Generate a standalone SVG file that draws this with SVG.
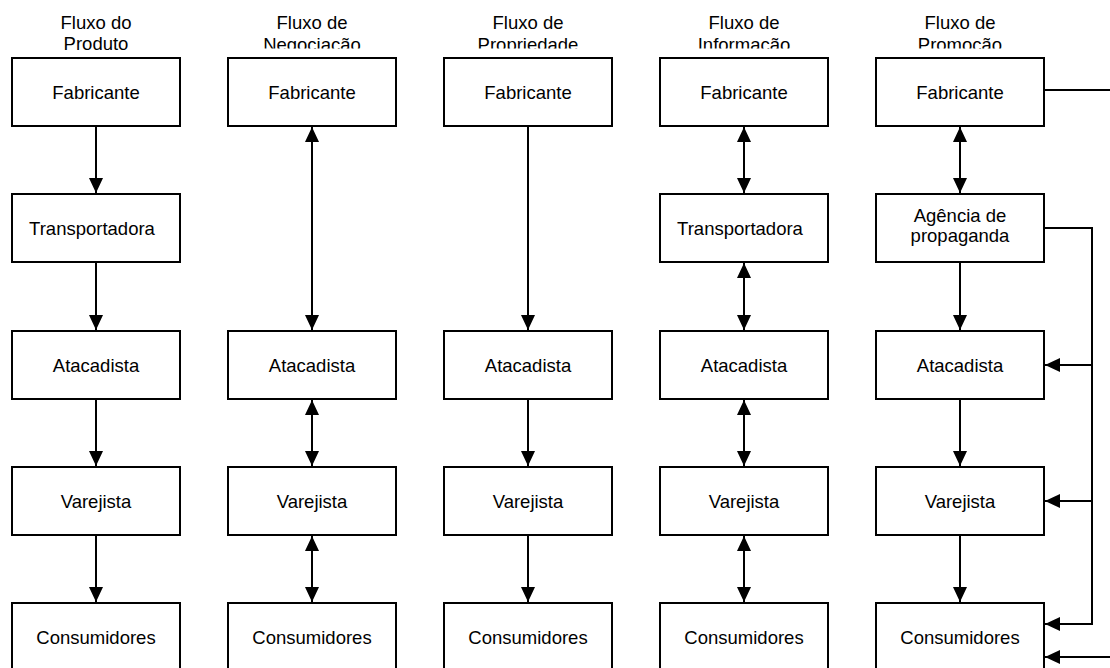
<svg xmlns="http://www.w3.org/2000/svg" width="1110" height="668" viewBox="0 0 1110 668">
  <style>
    .box { fill: #ffffff; stroke: #000000; stroke-width: 2; }
    .lbl { font-family: "Liberation Sans", Arial, sans-serif; font-size: 18.5px; fill: #000000; text-anchor: middle; }
    .con { fill: none; stroke: #000000; stroke-width: 2; }
    .one { marker-end: url(#ah); }
    .two { marker-start: url(#ah); marker-end: url(#ah); }
  </style>
  <defs>
    <marker id="ah" markerUnits="userSpaceOnUse" markerWidth="15" markerHeight="14" refX="15" refY="7" orient="auto-start-reverse" viewBox="0 0 15 14">
      <path d="M0,0 L15,7 L0,14 z" fill="#000000"/>
    </marker>
    <clipPath id="tclip">
      <rect x="0" y="0" width="1110" height="48.5"/>
    </clipPath>
  </defs>
  <rect x="0" y="0" width="1110" height="668" fill="#ffffff"/>

  <g id="titles" class="lbl">
    <text x="96" y="29">Fluxo do</text>
    <text x="96" y="50">Produto</text>
    <g clip-path="url(#tclip)">
      <text x="312" y="29">Fluxo de</text>
      <text x="312" y="50.5">Negociação</text>
      <text x="528" y="29">Fluxo de</text>
      <text x="528" y="50.5">Propriedade</text>
      <text x="744" y="29">Fluxo de</text>
      <text x="744" y="50.5">Informação</text>
      <text x="960" y="29">Fluxo de</text>
      <text x="960" y="50.5">Promoção</text>
    </g>
  </g>

  <!-- Column 1: Produto -->
  <g id="c1-fabricante"><rect class="box" x="12" y="58" width="168" height="68"/><text class="lbl" x="96" y="98.5">Fabricante</text></g>
  <g id="c1-transportadora"><rect class="box" x="12" y="194" width="168" height="68"/><text class="lbl" x="92" y="234.5">Transportadora</text></g>
  <g id="c1-atacadista"><rect class="box" x="12" y="331" width="168" height="68"/><text class="lbl" x="96" y="371.5">Atacadista</text></g>
  <g id="c1-varejista"><rect class="box" x="12" y="467" width="168" height="68"/><text class="lbl" x="96" y="507.5">Varejista</text></g>
  <g id="c1-consumidores"><rect class="box" x="12" y="603" width="168" height="68"/><text class="lbl" x="96" y="643.5">Consumidores</text></g>

  <!-- Column 2: Negociação -->
  <g id="c2-fabricante"><rect class="box" x="228" y="58" width="168" height="68"/><text class="lbl" x="312" y="98.5">Fabricante</text></g>
  <g id="c2-atacadista"><rect class="box" x="228" y="331" width="168" height="68"/><text class="lbl" x="312" y="371.5">Atacadista</text></g>
  <g id="c2-varejista"><rect class="box" x="228" y="467" width="168" height="68"/><text class="lbl" x="312" y="507.5">Varejista</text></g>
  <g id="c2-consumidores"><rect class="box" x="228" y="603" width="168" height="68"/><text class="lbl" x="312" y="643.5">Consumidores</text></g>

  <!-- Column 3: Propriedade -->
  <g id="c3-fabricante"><rect class="box" x="444" y="58" width="168" height="68"/><text class="lbl" x="528" y="98.5">Fabricante</text></g>
  <g id="c3-atacadista"><rect class="box" x="444" y="331" width="168" height="68"/><text class="lbl" x="528" y="371.5">Atacadista</text></g>
  <g id="c3-varejista"><rect class="box" x="444" y="467" width="168" height="68"/><text class="lbl" x="528" y="507.5">Varejista</text></g>
  <g id="c3-consumidores"><rect class="box" x="444" y="603" width="168" height="68"/><text class="lbl" x="528" y="643.5">Consumidores</text></g>

  <!-- Column 4: Informação -->
  <g id="c4-fabricante"><rect class="box" x="660" y="58" width="168" height="68"/><text class="lbl" x="744" y="98.5">Fabricante</text></g>
  <g id="c4-transportadora"><rect class="box" x="660" y="194" width="168" height="68"/><text class="lbl" x="740" y="234.5">Transportadora</text></g>
  <g id="c4-atacadista"><rect class="box" x="660" y="331" width="168" height="68"/><text class="lbl" x="744" y="371.5">Atacadista</text></g>
  <g id="c4-varejista"><rect class="box" x="660" y="467" width="168" height="68"/><text class="lbl" x="744" y="507.5">Varejista</text></g>
  <g id="c4-consumidores"><rect class="box" x="660" y="603" width="168" height="68"/><text class="lbl" x="744" y="643.5">Consumidores</text></g>

  <!-- Column 5: Promoção -->
  <g id="c5-fabricante"><rect class="box" x="876" y="58" width="168" height="68"/><text class="lbl" x="960" y="98.5">Fabricante</text></g>
  <g id="c5-agencia"><rect class="box" x="876" y="194" width="168" height="68"/><text class="lbl" x="960" y="222">Agência de</text><text class="lbl" x="960" y="242">propaganda</text></g>
  <g id="c5-atacadista"><rect class="box" x="876" y="331" width="168" height="68"/><text class="lbl" x="960" y="371.5">Atacadista</text></g>
  <g id="c5-varejista"><rect class="box" x="876" y="467" width="168" height="68"/><text class="lbl" x="960" y="507.5">Varejista</text></g>
  <g id="c5-consumidores"><rect class="box" x="876" y="603" width="168" height="68"/><text class="lbl" x="960" y="643.5">Consumidores</text></g>

  <g id="connectors" class="con">
    <line class="one" x1="96" y1="127" x2="96" y2="193"/>
    <line class="one" x1="96" y1="263" x2="96" y2="330"/>
    <line class="one" x1="96" y1="400" x2="96" y2="466"/>
    <line class="one" x1="96" y1="536" x2="96" y2="602"/>
    <line class="two" x1="312" y1="127" x2="312" y2="330"/>
    <line class="two" x1="312" y1="400" x2="312" y2="466"/>
    <line class="two" x1="312" y1="536" x2="312" y2="602"/>
    <line class="one" x1="528" y1="127" x2="528" y2="330"/>
    <line class="one" x1="528" y1="400" x2="528" y2="466"/>
    <line class="one" x1="528" y1="536" x2="528" y2="602"/>
    <line class="two" x1="744" y1="127" x2="744" y2="193"/>
    <line class="two" x1="744" y1="263" x2="744" y2="330"/>
    <line class="two" x1="744" y1="400" x2="744" y2="466"/>
    <line class="two" x1="744" y1="536" x2="744" y2="602"/>
    <line class="two" x1="960" y1="127" x2="960" y2="193"/>
    <line class="one" x1="960" y1="263" x2="960" y2="330"/>
    <line class="one" x1="960" y1="400" x2="960" y2="466"/>
    <line class="one" x1="960" y1="536" x2="960" y2="602"/>
    <line x1="1045" y1="90" x2="1110" y2="90"/>
    <polyline class="one" points="1045,228 1092,228 1092,624 1045,624"/>
    <line class="one" x1="1092" y1="365" x2="1045" y2="365"/>
    <line class="one" x1="1092" y1="501" x2="1045" y2="501"/>
    <line class="one" x1="1110" y1="657" x2="1045" y2="657"/>
  </g>
</svg>
